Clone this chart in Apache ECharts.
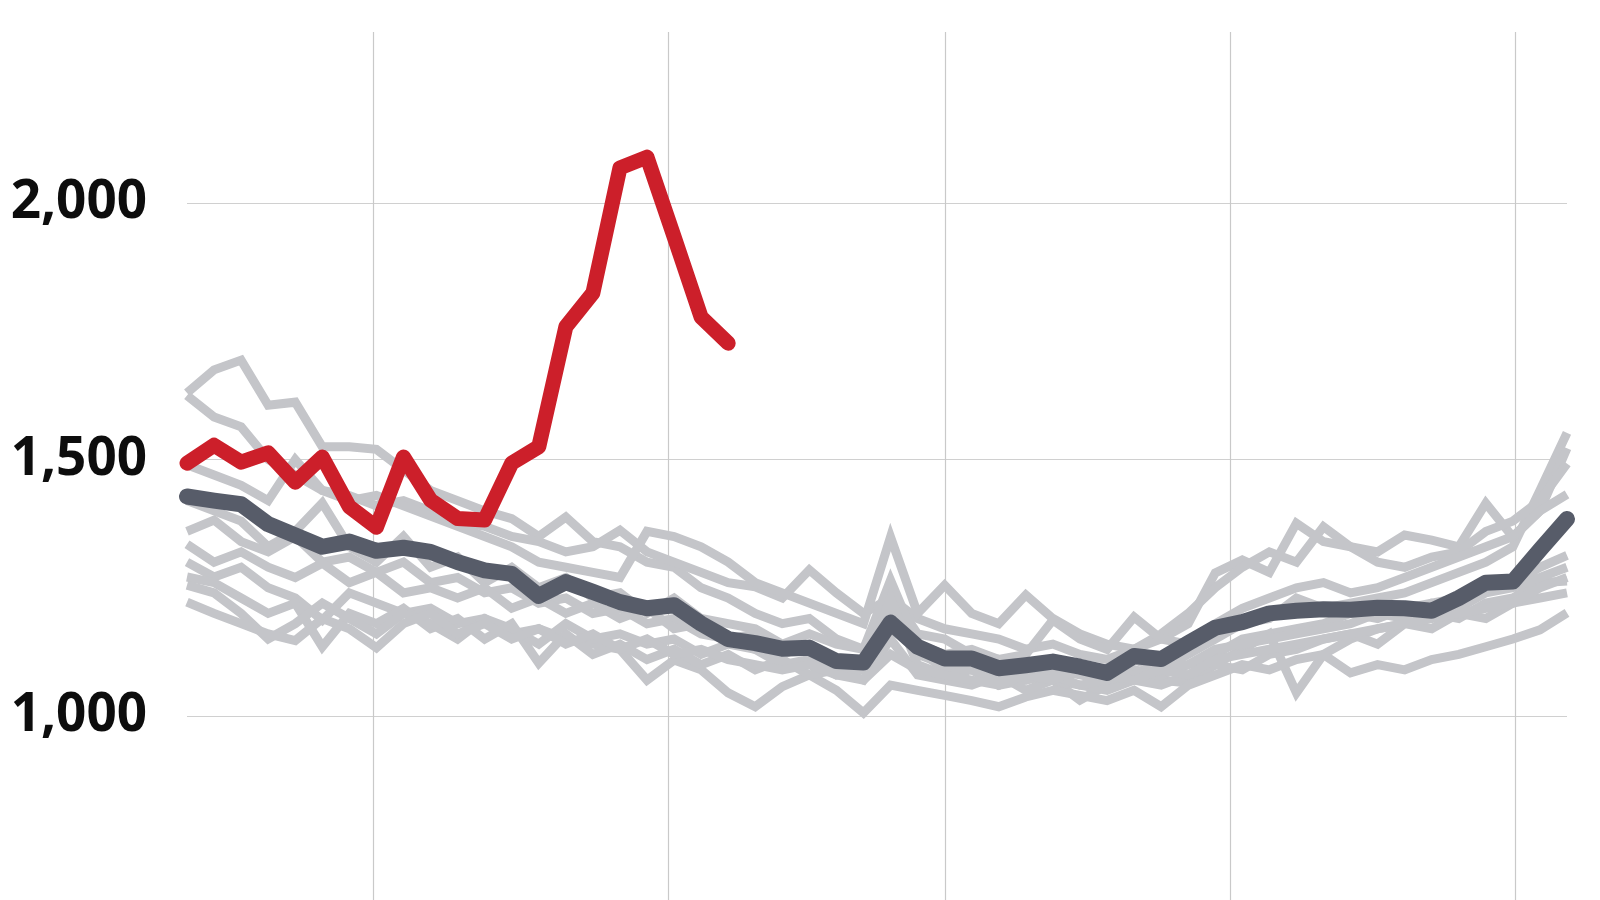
<!DOCTYPE html>
<html>
<head>
<meta charset="utf-8">
<script src="https://cdn.jsdelivr.net/npm/echarts@6/dist/echarts.min.js"></script>
<style>
html,body{margin:0;padding:0;background:#ffffff;}
#chart{width:1600px;height:900px;}
</style>
</head>
<body>
<div id="chart"></div>
<script>
// ---------- DATA ----------
const weeks = Array.from({length: 52}, (_, i) => i + 1);

const yTickLabels = [1000, 1500, 2000];

// week positions of the vertical reference lines
const verticalGridWeeks = [7.88, 18.79, 29.04, 39.54, 50.07];

// current year (red), only first 21 weeks
const currentYear = [1493,1528,1495,1513,1456,1505,1408,1368,1505,1421,1385,1382,1493,1525,1759,1825,2069,2090,1935,1778,1727];

// average (dark grey)
const average = [1428,1420,1413,1374,1352,1330,1340,1322,1328,1320,1300,1284,1277,1234,1261,1242,1222,1210,1216,1180,1150,1142,1131,1133,1107,1104,1182,1135,1112,1112,1093,1099,1106,1096,1084,1117,1111,1142,1172,1183,1200,1205,1208,1207,1211,1210,1205,1230,1260,1262,1324,1384];

// previous years (light grey)
const year1 = [1630,1675,1694,1606,1612,1525,1525,1520,1480,1440,1420,1400,1385,1350,1388,1340,1330,1300,1290,1250,1230,1200,1180,1190,1150,1130,1240,1160,1150,1120,1110,1100,1090,1100,1080,1110,1090,1120,1150,1180,1190,1230,1210,1220,1230,1240,1260,1280,1300,1330,1440,1552];
const year2 = [1625,1583,1564,1500,1470,1440,1430,1410,1420,1400,1380,1370,1350,1340,1320,1330,1362,1320,1300,1280,1260,1252,1230,1285,1240,1200,1230,1190,1170,1160,1150,1130,1140,1120,1110,1130,1150,1180,1279,1304,1280,1376,1340,1330,1320,1353,1343,1330,1415,1349,1400,1522];
const year3 = [1490,1470,1450,1420,1500,1440,1420,1430,1410,1390,1370,1350,1330,1300,1290,1280,1270,1360,1350,1330,1300,1260,1240,1220,1200,1180,1349,1200,1255,1200,1180,1236,1190,1160,1140,1130,1160,1200,1250,1290,1320,1300,1369,1330,1300,1290,1310,1320,1360,1380,1420,1492];
const year4 = [1420,1400,1380,1330,1360,1415,1330,1300,1350,1290,1310,1260,1290,1250,1270,1230,1240,1200,1230,1190,1180,1170,1140,1160,1140,1130,1265,1140,1120,1130,1110,1120,1187,1150,1130,1193,1150,1140,1180,1210,1230,1250,1260,1240,1250,1270,1290,1310,1330,1350,1400,1432];
const year5 = [1360,1382,1340,1320,1350,1300,1310,1280,1300,1260,1270,1240,1250,1220,1230,1200,1210,1180,1190,1160,1150,1130,1120,1140,1110,1100,1200,1120,1100,1090,1080,1070,1090,1080,1070,1090,1080,1100,1120,1150,1160,1170,1180,1200,1190,1210,1220,1230,1250,1260,1290,1313];
const year6 = [1335,1300,1320,1290,1270,1298,1260,1280,1240,1250,1230,1250,1210,1230,1200,1220,1190,1210,1170,1180,1150,1160,1120,1140,1100,1110,1180,1130,1090,1100,1060,1080,1070,1031,1060,1090,1070,1064,1100,1130,1160,1045,1120,1150,1170,1180,1200,1190,1220,1230,1260,1263];
const year7 = [1300,1271,1290,1250,1230,1187,1240,1220,1200,1210,1180,1190,1160,1170,1150,1140,1130,1070,1109,1090,1045,1018,1057,1080,1050,1006,1060,1050,1040,1030,1018,1037,1050,1040,1030,1050,1018,1060,1080,1100,1090,1110,1120,1084,1100,1090,1110,1120,1135,1150,1168,1201];
const year8 = [1271,1260,1230,1200,1220,1135,1200,1180,1210,1170,1190,1150,1180,1103,1160,1120,1140,1110,1130,1100,1120,1090,1110,1080,1090,1070,1150,1080,1070,1060,1080,1050,1070,1060,1050,1070,1060,1080,1100,1090,1120,1130,1150,1160,1140,1180,1170,1200,1190,1220,1230,1240];
const year9 = [1255,1240,1200,1150,1180,1220,1190,1160,1200,1180,1150,1190,1170,1140,1180,1150,1160,1140,1150,1120,1140,1130,1100,1110,1080,1090,1230,1100,1080,1090,1060,1070,1080,1060,1070,1080,1090,1100,1130,1140,1150,1160,1170,1180,1200,1190,1220,1210,1240,1250,1270,1290];
const year10 = [1222,1200,1180,1160,1147,1190,1170,1133,1180,1200,1160,1180,1150,1170,1140,1160,1130,1150,1120,1130,1110,1100,1090,1100,1080,1070,1120,1090,1080,1070,1060,1080,1070,1090,1080,1070,1090,1080,1110,1120,1130,1140,1150,1160,1170,1180,1190,1200,1210,1220,1250,1270];

const previousYears = [year1, year2, year3, year4, year5, year6, year7, year8, year9, year10];

// ---------- CHART ----------
const chart = echarts.init(document.getElementById('chart'), null, {renderer: 'canvas'});

const pair = (arr) => arr.map((v, i) => [weeks[i], v]);

const series = [];

previousYears.forEach((arr) => {
  series.push({
    type: 'line',
    data: pair(arr),
    symbol: 'none',
    silent: true,
    lineStyle: {color: '#c4c5c9', width: 9, join: 'miter'},
    z: 2
  });
});

series.push({
  type: 'line',
  data: pair(average),
  symbol: 'none',
  silent: true,
  lineStyle: {color: '#575c69', width: 16, cap: 'round', join: 'round'},
  z: 3
});

series.push({
  type: 'line',
  data: pair(currentYear),
  symbol: 'none',
  silent: true,
  lineStyle: {color: '#cc1f2a', width: 15, cap: 'round', join: 'round'},
  z: 4
});

chart.setOption({
  animation: false,
  backgroundColor: '#ffffff',
  grid: {left: 187, right: 33, top: 32, bottom: 0, containLabel: false},
  xAxis: {
    type: 'value',
    min: 1,
    max: 52,
    axisLine: {show: false},
    axisTick: {show: false, customValues: verticalGridWeeks},
    axisLabel: {show: false, customValues: verticalGridWeeks},
    splitLine: {show: true, lineStyle: {color: '#c9c9c9', width: 1.2}}
  },
  yAxis: {
    type: 'value',
    min: 641,
    max: 2334,
    axisLine: {show: false},
    axisTick: {show: false, customValues: yTickLabels},
    axisLabel: {
      customValues: yTickLabels,
      margin: 40,
      color: '#0d0d0d',
      fontFamily: 'Open Sans',
      fontWeight: 'bold',
      fontSize: 53,
      formatter: (v) => Number(v).toLocaleString('en-US')
    },
    splitLine: {show: true, lineStyle: {color: '#d0d0d0', width: 1.2}}
  },
  series: series
});
</script>
</body>
</html>
